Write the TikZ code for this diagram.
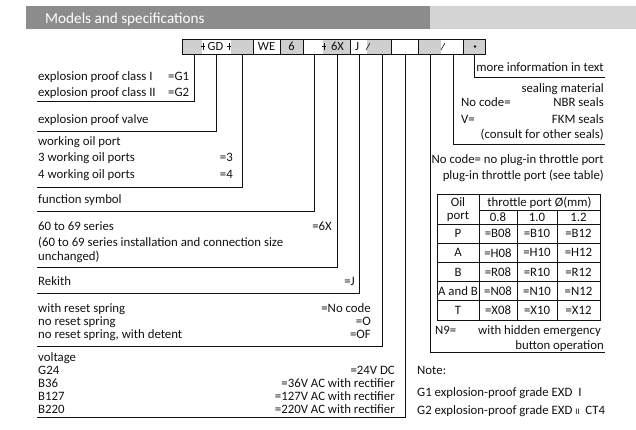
\documentclass[tikz,border=0pt]{standalone}
\usepackage{fontspec}
\setmainfont{Carlito}
\definecolor{hdr}{HTML}{8C8C8C}
\definecolor{hdrl}{HTML}{D4D4D4}
\definecolor{cg}{HTML}{CFCFCF}
\definecolor{ink}{HTML}{111111}
\begin{document}
\begin{tikzpicture}[x=1pt,y=-1pt,
  txt/.style={inner sep=0pt, font=\fontsize{12.8}{14}\selectfont, text=ink},
  ctxt/.style={inner sep=0pt, font=\fontsize{12.5}{14}\selectfont, text=ink},
  ln/.style={draw=ink, line width=0.8pt},
  tl/.style={draw=ink, line width=0.7pt}]
\useasboundingbox (0,0) rectangle (636,430);
% header
\fill[hdr] (26,6) rectangle (430,29);
\fill[hdrl] (430,6) rectangle (636,29);
\node[inner sep=0pt, anchor=base west, text=white, font=\fontsize{15.2}{17}\selectfont] (hd) at (45,23.5) {Models and specifications};
% code row fills
\fill[cg] (182,39) rectangle (202,54);
\fill[cg] (231,39) rectangle (253,54);
\fill[cg] (280,39) rectangle (303,54);
\fill[cg] (323,39) rectangle (350,54);
\fill[cg] (367,39) rectangle (391,54);
\fill[cg] (418,39) rectangle (441,54);
\fill[cg] (463,39) rectangle (485,54);
\draw[tl] (182,39) rectangle (485,54);
\foreach \x in {253,280,303,350,391,418,463} \draw[tl] (\x,39) -- (\x,54);
% code texts
\node[ctxt] (cGD) at (215.5,46.5) {GD};
\node[ctxt] (cWE) at (266.5,46.5) {WE};
\node[ctxt] (c6) at (291.5,46.5) {6};
\node[ctxt] (c6X) at (337.5,46.5) {6X};
\node[ctxt] (cJ) at (357,46.5) {J};
\fill[ink] (475,46.5) circle (1.3pt);
% separators
\foreach \x in {203,229,324} {\draw[ink,line width=0.6pt] (\x,43) -- (\x,50.5); \draw[ink,line width=0.6pt] (\x-2.5,46.5) -- (\x+2,46.5);}
\foreach \x in {368,443} \draw[ink,line width=0.6pt] (\x-2,50) -- (\x+2,43);
% leader coordinates
\foreach \n/\x in {a/194,b/216,c/242,d/314,e/337,f/359,g/382,h/405,i/430,j/453,k/474}
  \coordinate (t\n) at (\x,54);
\coordinate (ba) at (194,101); \coordinate (la) at (37,101);
\coordinate (bb) at (216,131); \coordinate (lb) at (37,131);
\coordinate (bc) at (242,187); \coordinate (lc) at (37,187);
\coordinate (bd) at (314,211); \coordinate (ld) at (37,211);
\coordinate (be) at (337,267); \coordinate (le) at (37,267);
\coordinate (bf) at (359,293); \coordinate (lf) at (37,293);
\coordinate (bg) at (382,346); \coordinate (lg) at (37,346);
\coordinate (bh) at (405,417); \coordinate (lh) at (37,417);
\coordinate (bi) at (430,352); \coordinate (ri) at (605,352);
\coordinate (bj) at (453,144); \coordinate (rj) at (605,144);
\coordinate (bk) at (474,77); \coordinate (rk) at (605,77);
\foreach \n in {a,b,c,d,e,f,g,h} \draw[ln] (t\n) -- (b\n) -- (l\n);
\foreach \n in {i,j,k} \draw[ln] (t\n) -- (b\n) -- (r\n);
% left texts
\node[txt, anchor=base west] (g1) at (38,81) {explosion proof class I};
\node[txt, anchor=base west] (g1v) at (168,81) {=G1};
\node[txt, anchor=base west] (g2) at (38,97) {explosion proof class II};
\node[txt, anchor=base west] (g2v) at (168,97) {=G2};
\node[txt, anchor=base west] (pv) at (38,124) {explosion proof valve};
\node[txt, anchor=base west] (wp) at (38,146) {working oil port};
\node[txt, anchor=base west] (w3) at (38,162) {3 working oil ports};
\node[txt, anchor=base east] (w3v) at (233,162) {=3};
\node[txt, anchor=base west] (w4) at (38,179) {4 working oil ports};
\node[txt, anchor=base east] (w4v) at (233,179) {=4};
\node[txt, anchor=base west] (fs) at (38,203.5) {function symbol};
\node[txt, anchor=base west] (s1) at (38,230) {60 to 69 series};
\node[txt, anchor=base east] (s1v) at (332,230) {=6X};
\node[txt, anchor=base west] (s2) at (38,246) {(60 to 69 series installation and connection size};
\node[txt, anchor=base west] (s3) at (38,260) {unchanged)};
\node[txt, anchor=base west] (rk) at (38,285) {Rekith};
\node[txt, anchor=base east] (rkv) at (355,285) {=J};
\node[txt, anchor=base west] (r1) at (38,312) {with reset spring};
\node[txt, anchor=base east] (r1v) at (371,312) {=No code};
\node[txt, anchor=base west] (r2) at (38,325) {no reset spring};
\node[txt, anchor=base east] (r2v) at (371,325) {=O};
\node[txt, anchor=base west] (r3) at (38,338) {no reset spring, with detent};
\node[txt, anchor=base east] (r3v) at (371,338) {=OF};
\node[txt, anchor=base west] (v0) at (38,361) {voltage};
\node[txt, anchor=base west] (v1) at (38,374) {G24};
\node[txt, anchor=base east] (v1v) at (395,374) {=24V DC};
\node[txt, anchor=base west] (v2) at (38,387) {B36};
\node[txt, anchor=base east] (v2v) at (395,387) {=36V AC with rectifier};
\node[txt, anchor=base west] (v3) at (38,400) {B127};
\node[txt, anchor=base east] (v3v) at (395,400) {=127V AC with rectifier};
\node[txt, anchor=base west] (v4) at (38,413) {B220};
\node[txt, anchor=base east] (v4v) at (395,413) {=220V AC with rectifier};
% right texts
\node[txt, anchor=base east] (mi) at (604,72) {more information in text};
\node[txt, anchor=base east] (sm) at (604,93) {sealing material};
\node[txt, anchor=base west] (sn) at (461,107) {No code=};
\node[txt, anchor=base east] (snv) at (604,107) {NBR seals};
\node[txt, anchor=base west] (sv) at (461,124) {V=};
\node[txt, anchor=base east] (svv) at (604,124) {FKM seals};
\node[txt, anchor=base east] (sc) at (604,139) {(consult for other seals)};
\node[txt, anchor=base east] (th1) at (604,164) {No code=\ no plug-in throttle port};
\node[txt, anchor=base east] (th2) at (604,180) {plug-in throttle port (see table)};
% table
\draw[tl] (437,194) rectangle (600,320);
\draw[tl] (479,194) -- (479,320);
\draw[tl] (479,210) -- (600,210);
\draw[tl] (517,210) -- (517,320);
\draw[tl] (557,210) -- (557,320);
\foreach \y in {224,243.2,262.4,281.6,300.8} \draw[tl] (437,\y) -- (600,\y);
\node[txt] (o1) at (458,202.5) {Oil};
\node[txt] (o2) at (458,216.5) {port};
\node[txt] (tp) at (539.5,202.5) {throttle port Ø(mm)};
\node[txt] (d1) at (498,217.5) {0.8};
\node[txt] (d2) at (537,217.5) {1.0};
\node[txt] (d3) at (578.5,217.5) {1.2};
\foreach \r/\p/\l [count=\k] in {P/B/233.6, A/H/252.8, B/R/272, A and B/N/291.2, T/X/310.4} {
  \node[txt] (p\k) at (458,\l) {\r};
  \node[txt] (q\k a) at (498,\l) {=\p08};
  \node[txt] (q\k b) at (537,\l) {=\p10};
  \node[txt] (q\k c) at (578.5,\l) {=\p12};
}
\node[txt, anchor=base west] (n9) at (435,334) {N9=};
\node[txt, anchor=base east] (n9a) at (601,334) {with hidden emergency};
\node[txt, anchor=base east] (n9b) at (604,349) {button operation};
% note
\node[txt, anchor=base west] (nt) at (417,374) {Note:};
\node[txt, anchor=base west] (nt1) at (417,396) {G1 explosion-proof grade EXD~~I};
\node[txt, anchor=base west] (nt2) at (417,414) {G2 explosion-proof grade EXD~{\fontsize{8.5}{9}\selectfont II}~~CT4};
\end{tikzpicture}
\end{document}
